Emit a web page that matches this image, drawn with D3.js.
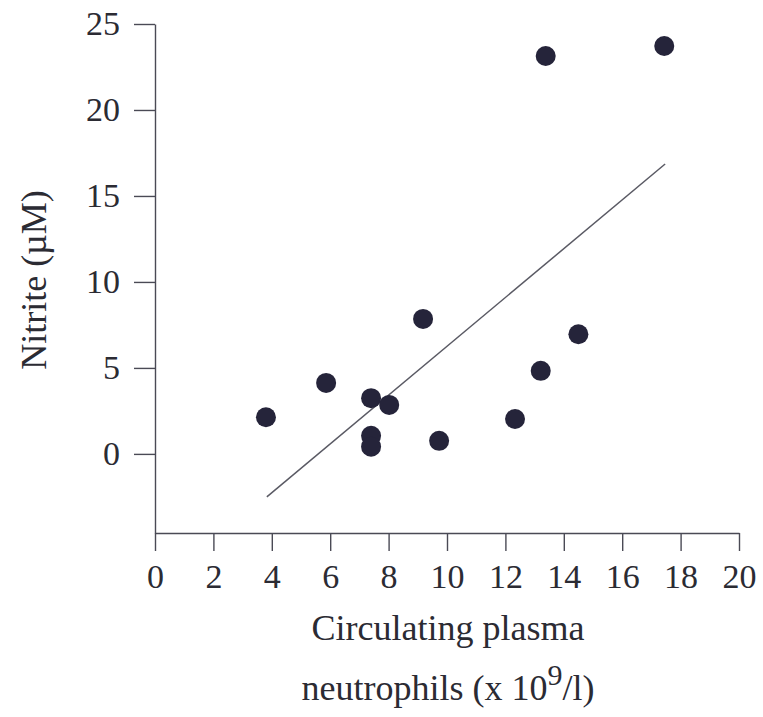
<!DOCTYPE html>
<html>
<head>
<meta charset="utf-8">
<script src="https://cdn.jsdelivr.net/npm/d3@7"></script>
<style>
  html, body { margin: 0; padding: 0; background: #fff; }
  svg { display: block; }
  text { font-family: "Liberation Serif", "Times New Roman", serif; fill: #2b2b33; }
</style>
</head>
<body>
<svg id="chart" width="763" height="717"></svg>
<script>
// Data
const neutrophils = [3.80, 5.86, 7.40, 8.02, 7.40, 7.40, 9.18, 9.73, 12.33, 13.21, 14.50, 13.38, 17.44];
const nitrite     = [2.13, 4.13, 3.24, 2.85, 1.05, 0.42, 7.85, 0.76, 2.03, 4.83, 6.96, 23.14, 23.72];
const fitX = [3.83, 17.47];
const fitY = [-2.5, 16.86];
const xTicks = [0, 2, 4, 6, 8, 10, 12, 14, 16, 18, 20];
const yTicks = [0, 5, 10, 15, 20, 25];
const yLabel = "Nitrite (\u00B5M)";
const xLabelLine1 = "Circulating plasma";

const svg = d3.select("#chart");
const mLeft = 155, mRight = 739, mTop = 24, mBottom = 533;

const x = d3.scaleLinear().domain([0, 20]).range([mLeft, mRight]);
const y = d3.scaleLinear().domain([-4.6, 25]).range([mBottom, mTop]);

const axisColor = "#4a4a55";

// X axis
const gx = svg.append("g").attr("transform", `translate(0,${mBottom})`)
  .call(d3.axisBottom(x).tickValues(xTicks).tickSize(18).tickSizeOuter(0).tickPadding(13).tickFormat(d3.format("d")));
gx.selectAll("text").style("font-size", "34px").attr("dy", "0.71em");

// Y axis
const gy = svg.append("g").attr("transform", `translate(${mLeft},0)`)
  .call(d3.axisLeft(y).tickValues(yTicks).tickSize(21).tickSizeOuter(0).tickPadding(14).tickFormat(d3.format("d")));
gy.selectAll("text").style("font-size", "34px");

svg.selectAll(".domain, .tick line").attr("stroke", axisColor).attr("stroke-width", 1.4);
svg.selectAll(".tick text").attr("fill", "#2b2b33").style("font-family", "'Liberation Serif', serif");

// Fit line
const lineData = fitX.map((v, i) => ({x: v, y: fitY[i]}));
svg.append("path")
  .datum(lineData)
  .attr("fill", "none")
  .attr("stroke", "#5a5a64")
  .attr("stroke-width", 1.5)
  .attr("d", d3.line().x(d => x(d.x)).y(d => y(d.y)));

// Points
const pts = neutrophils.map((v, i) => ({x: v, y: nitrite[i]}));
svg.append("g").selectAll("circle").data(pts).join("circle")
  .attr("cx", d => x(d.x))
  .attr("cy", d => y(d.y))
  .attr("r", 10)
  .attr("fill", "#25243a");

// Y label
svg.append("text")
  .attr("transform", `translate(46,280) rotate(-90)`)
  .attr("text-anchor", "middle")
  .style("font-size", "36px")
  .text(yLabel);

// X label
svg.append("text")
  .attr("x", 448).attr("y", 640)
  .attr("text-anchor", "middle")
  .style("font-size", "36px")
  .text(xLabelLine1);

const l2 = svg.append("text")
  .attr("x", 448).attr("y", 700)
  .attr("text-anchor", "middle")
  .style("font-size", "36px");
l2.append("tspan").text("neutrophils (x 10");
l2.append("tspan").attr("dy", -15).style("font-size", "30px").text("9");
l2.append("tspan").attr("dy", 15).text("/l)");
</script>
</body>
</html>
